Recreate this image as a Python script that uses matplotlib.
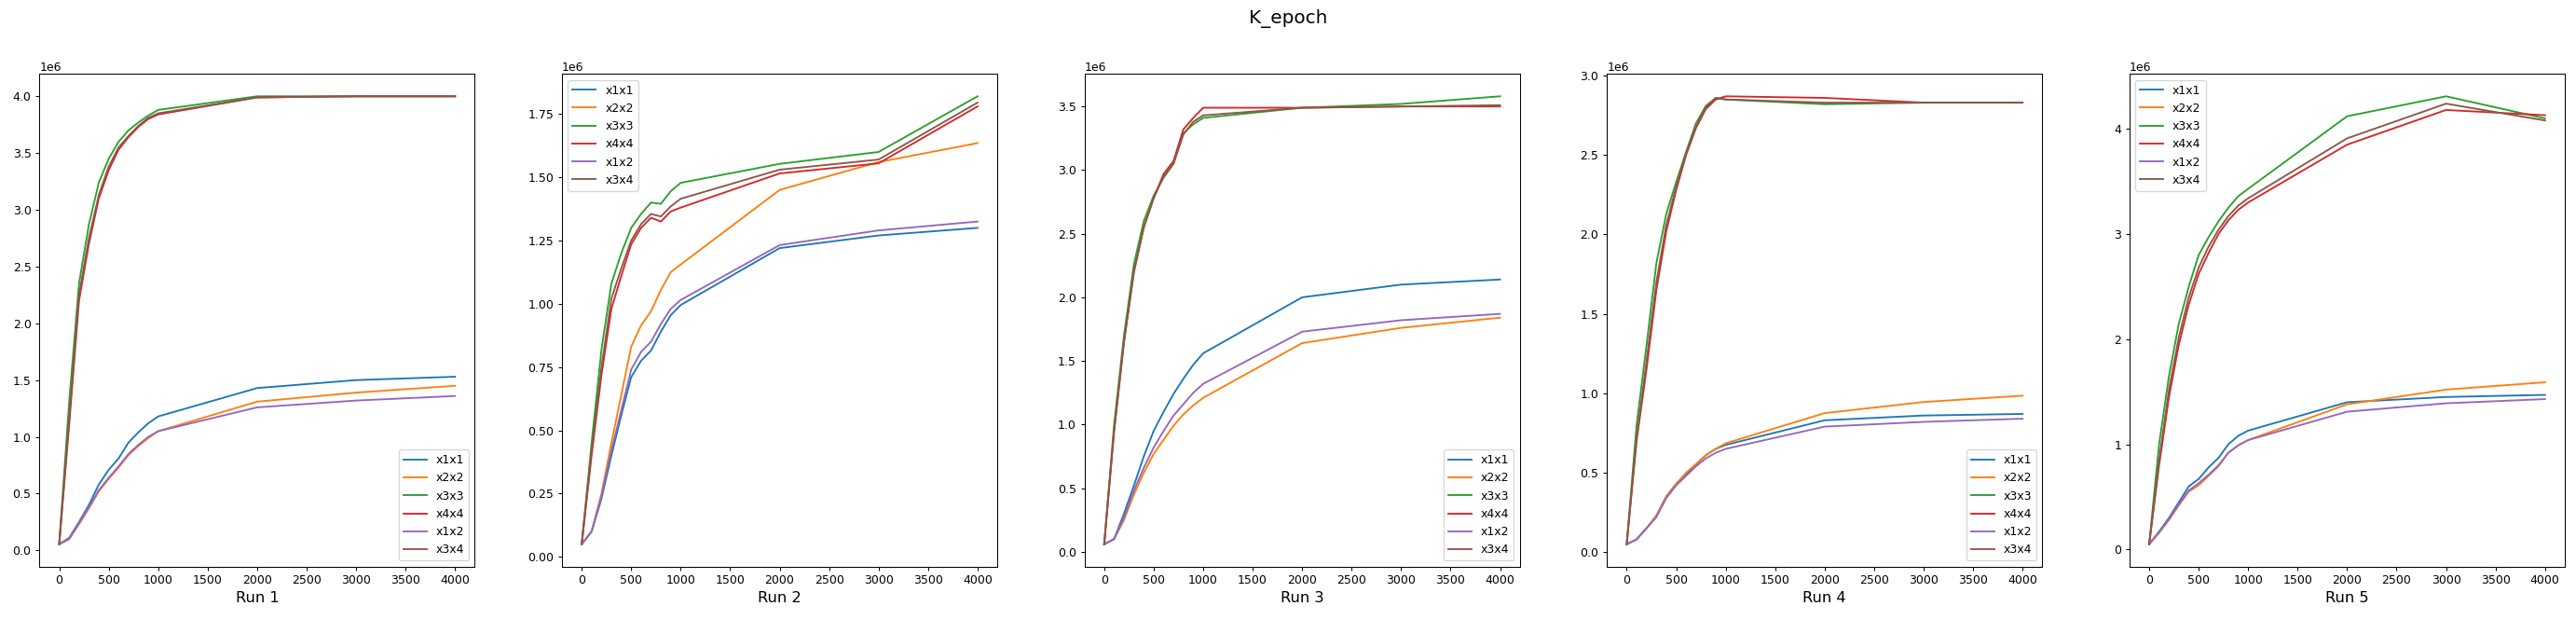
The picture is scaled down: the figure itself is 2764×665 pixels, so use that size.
import matplotlib
matplotlib.use("Agg")
import matplotlib.pyplot as plt

# %%
epochs = [0, 100, 200, 300, 400, 500, 600, 700, 800, 900, 1000, 2000, 3000, 4000]
labels = ["x1x1", "x2x2", "x3x3", "x4x4", "x1x2", "x3x4"]
run_names = ["Run 1", "Run 2", "Run 3", "Run 4", "Run 5"]
legend_locs = ["lower right", "upper left", "lower right", "lower right", "upper left"]

# values in 1e6, one list per kernel
run1 = {
    "x1x1": [0.055, 0.11, 0.25, 0.40, 0.58, 0.71, 0.81, 0.95, 1.04, 1.12, 1.18, 1.43, 1.50, 1.53],
    "x2x2": [0.055, 0.10, 0.23, 0.37, 0.52, 0.63, 0.73, 0.84, 0.92, 0.99, 1.05, 1.31, 1.39, 1.45],
    "x3x3": [0.055, 1.30, 2.35, 2.87, 3.24, 3.45, 3.60, 3.70, 3.77, 3.83, 3.88, 4.00, 4.00, 4.00],
    "x4x4": [0.055, 1.10, 2.20, 2.70, 3.10, 3.35, 3.53, 3.64, 3.73, 3.80, 3.84, 3.99, 4.00, 4.00],
    "x1x2": [0.055, 0.10, 0.24, 0.38, 0.53, 0.64, 0.74, 0.85, 0.93, 1.00, 1.05, 1.26, 1.32, 1.36],
    "x3x4": [0.055, 1.15, 2.25, 2.75, 3.13, 3.38, 3.55, 3.65, 3.74, 3.81, 3.85, 3.99, 4.00, 4.00],
}
run2 = {
    "x1x1": [0.05, 0.10, 0.23, 0.40, 0.56, 0.71, 0.775, 0.815, 0.89, 0.955, 0.995, 1.22, 1.27, 1.30],
    "x2x2": [0.05, 0.10, 0.25, 0.45, 0.64, 0.83, 0.915, 0.97, 1.055, 1.125, 1.155, 1.45, 1.56, 1.635],
    "x3x3": [0.05, 0.45, 0.82, 1.08, 1.20, 1.30, 1.355, 1.40, 1.395, 1.445, 1.478, 1.553, 1.60, 1.82],
    "x4x4": [0.05, 0.40, 0.72, 0.98, 1.11, 1.235, 1.30, 1.34, 1.325, 1.365, 1.38, 1.515, 1.555, 1.78],
    "x1x2": [0.05, 0.10, 0.24, 0.42, 0.58, 0.74, 0.81, 0.85, 0.92, 0.98, 1.015, 1.232, 1.29, 1.325],
    "x3x4": [0.05, 0.42, 0.75, 1.02, 1.14, 1.25, 1.315, 1.355, 1.345, 1.385, 1.415, 1.53, 1.57, 1.795],
}
run3 = {
    "x1x1": [0.06, 0.10, 0.30, 0.52, 0.75, 0.95, 1.10, 1.24, 1.36, 1.47, 1.56, 2.00, 2.10, 2.14],
    "x2x2": [0.06, 0.10, 0.25, 0.45, 0.62, 0.77, 0.88, 0.99, 1.08, 1.15, 1.21, 1.64, 1.76, 1.84],
    "x3x3": [0.06, 1.00, 1.70, 2.26, 2.60, 2.80, 2.94, 3.05, 3.29, 3.36, 3.41, 3.49, 3.52, 3.58],
    "x4x4": [0.06, 0.95, 1.65, 2.20, 2.55, 2.78, 2.97, 3.07, 3.32, 3.41, 3.49, 3.49, 3.50, 3.50],
    "x1x2": [0.06, 0.10, 0.27, 0.48, 0.66, 0.82, 0.95, 1.07, 1.16, 1.25, 1.32, 1.73, 1.82, 1.87],
    "x3x4": [0.06, 0.95, 1.65, 2.20, 2.55, 2.78, 2.95, 3.05, 3.28, 3.38, 3.43, 3.49, 3.50, 3.51],
}
run4 = {
    "x1x1": [0.05, 0.08, 0.15, 0.23, 0.35, 0.43, 0.49, 0.55, 0.61, 0.65, 0.675, 0.83, 0.86, 0.87],
    "x2x2": [0.05, 0.08, 0.15, 0.23, 0.35, 0.43, 0.50, 0.555, 0.61, 0.65, 0.685, 0.875, 0.945, 0.985],
    "x3x3": [0.05, 0.80, 1.30, 1.82, 2.13, 2.33, 2.52, 2.70, 2.81, 2.86, 2.85, 2.82, 2.83, 2.83],
    "x4x4": [0.05, 0.70, 1.15, 1.65, 2.02, 2.28, 2.50, 2.67, 2.79, 2.85, 2.87, 2.86, 2.83, 2.83],
    "x1x2": [0.05, 0.08, 0.15, 0.22, 0.34, 0.42, 0.48, 0.54, 0.59, 0.625, 0.65, 0.79, 0.82, 0.84],
    "x3x4": [0.05, 0.72, 1.20, 1.70, 2.06, 2.30, 2.51, 2.68, 2.80, 2.86, 2.85, 2.83, 2.83, 2.83],
}
run5 = {
    "x1x1": [0.05, 0.17, 0.30, 0.45, 0.60, 0.67, 0.78, 0.87, 1.00, 1.08, 1.13, 1.40, 1.45, 1.47],
    "x2x2": [0.05, 0.16, 0.28, 0.42, 0.55, 0.61, 0.70, 0.79, 0.92, 0.99, 1.04, 1.38, 1.52, 1.59],
    "x3x3": [0.05, 1.00, 1.65, 2.15, 2.50, 2.80, 2.97, 3.12, 3.25, 3.36, 3.43, 4.12, 4.31, 4.10],
    "x4x4": [0.05, 0.80, 1.45, 1.95, 2.33, 2.62, 2.82, 3.00, 3.13, 3.23, 3.30, 3.85, 4.18, 4.13],
    "x1x2": [0.05, 0.16, 0.29, 0.43, 0.56, 0.63, 0.71, 0.80, 0.92, 0.99, 1.04, 1.31, 1.39, 1.43],
    "x3x4": [0.05, 0.85, 1.52, 2.02, 2.40, 2.68, 2.88, 3.04, 3.17, 3.27, 3.34, 3.91, 4.24, 4.08],
}
runs = [run1, run2, run3, run4, run5]

# %%
dpi = 90
fig, axes = plt.subplots(1, 5, figsize=(2764 / dpi, 665 / dpi), dpi=dpi)
fig.subplots_adjust(left=42.3 / 2764, right=2752 / 2764, bottom=0.0862, top=0.8808, wspace=0.2)

for ax, run, name, loc in zip(axes, runs, run_names, legend_locs):
    for lab in labels:
        ax.plot(epochs, [v * 1e6 for v in run[lab]], label=lab)
    ax.set_xlabel(name, fontsize=13)
    ax.legend(loc=loc)

fig.suptitle("K_epoch", fontsize=16, y=0.985, va="top")

fig.savefig("out.png", dpi=dpi)
